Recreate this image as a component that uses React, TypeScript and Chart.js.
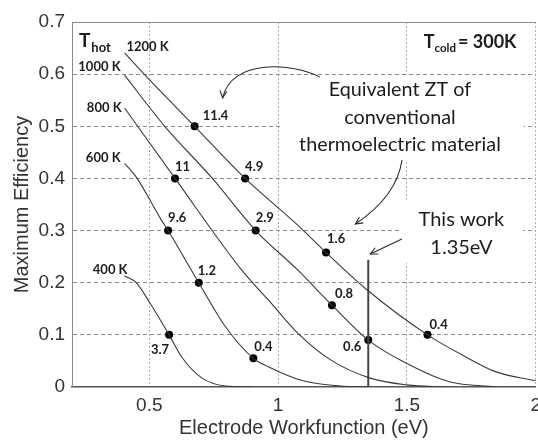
import React, { useEffect, useRef } from "react";
import { Chart, registerables } from "chart.js";

Chart.register(...registerables);

// ---- axis ticks ----
const xTickValues = [0.5, 1, 1.5, 2];
const xTickLabels = ["0.5", "1", "1.5", "2"];
const yTickValues = [0, 0.1, 0.2, 0.3, 0.4, 0.5, 0.6, 0.7];
const yTickLabels = ["0", "0.1", "0.2", "0.3", "0.4", "0.5", "0.6", "0.7"];

// ---- curves: maximum efficiency vs electrode workfunction (eV), per T_hot ----
const curveNames = ["400 K", "600 K", "800 K", "1000 K", "1200 K"];
const wf400 = [0.404, 0.449, 0.5, 0.577, 0.628, 0.705, 0.795, 0.9];
const eff400 = [0.213, 0.2, 0.163, 0.1, 0.056, 0.017, 0.002, 0];
const wf600 = [0.404, 0.449, 0.547, 0.573, 0.692, 0.795, 0.904, 0.962, 1.09, 1.218, 1.35];
const eff600 = [0.429, 0.403, 0.32, 0.3, 0.2, 0.116, 0.055, 0.039, 0.013, 0.003, 0];
const wf800 = [0.404, 0.6, 0.859, 0.962, 1.077, 1.204, 1.357, 1.5, 1.65];
const eff800 = [0.535, 0.4, 0.224, 0.167, 0.103, 0.052, 0.017, 0.004, 0];
const wf1000 = [0.404, 0.56, 0.745, 0.913, 1.077, 1.209, 1.35, 1.5, 1.665, 1.846];
const eff1000 = [0.598, 0.5, 0.4, 0.3, 0.224, 0.157, 0.09, 0.045, 0.01, 0];
const wf1200 = [0.404, 0.48, 0.676, 0.872, 1.077, 1.186, 1.346, 1.58, 1.72, 1.846, 2.0];
const eff1200 = [0.641, 0.6, 0.5, 0.4, 0.31, 0.258, 0.186, 0.1, 0.06, 0.029, 0.012];

// ---- equivalent ZT markers ----
const markerWf = [0.676, 0.872, 1.186, 1.58, 0.913, 1.209, 1.35, 0.6, 0.573, 0.692, 0.904, 0.577];
const markerEff = [0.5, 0.4, 0.258, 0.1, 0.3, 0.157, 0.09, 0.4, 0.3, 0.2, 0.055, 0.1];
const markerZT = ["11.4", "4.9", "1.6", "0.4", "2.9", "0.8", "0.6", "11", "9.6", "1.2", "0.4", "3.7"];

// ---- this work ----
const thisWorkWf = 1.35;
const thisWorkTop = 0.244;

// ---- text placement (layout, in px offsets / data anchors) ----
const markerLabelDx = [8, 0, 1, 2, 0, 3, -7, 0, 0, -1, 1, 0];
const markerLabelDy = [-10, -12, -14, -10, -13, -11, 7, -12, -13, -12, -12, 15];
const markerLabelAlign = ["left", "left", "left", "left", "left", "left", "right", "left", "left", "left", "left", "right"];
const curveLabelX = [0.4154, 0.3885, 0.3923, 0.3885, 0.4115];
const curveLabelY = [0.2244, 0.4392, 0.5351, 0.6137, 0.6521];
const curveLabelAlign = ["right", "right", "right", "right", "left"];

const LATO = "Lato, 'Open Sans', sans-serif";
const ARIAL = "'Liberation Sans', Arial, sans-serif";
const TXT = "#1c1c1c";

function arrowHead(ctx: CanvasRenderingContext2D, tx: number, ty: number, fx: number, fy: number) {
  const ang = Math.atan2(ty - fy, tx - fx);
  const L = 8;
  const s = 0.45;
  ctx.beginPath();
  ctx.moveTo(tx - L * Math.cos(ang - s), ty - L * Math.sin(ang - s));
  ctx.lineTo(tx, ty);
  ctx.lineTo(tx - L * Math.cos(ang + s), ty - L * Math.sin(ang + s));
  ctx.stroke();
}

const annotPlugin = {
  id: "annot",
  beforeDatasetsDraw(chart: any) {
    const { ctx, chartArea: a, scales } = chart;
    const X = (v: number) => scales.x.getPixelForValue(v);
    const Y = (v: number) => scales.y.getPixelForValue(v);
    ctx.save();
    // top frame line
    ctx.strokeStyle = "#8a8a8a";
    ctx.lineWidth = 1;
    ctx.beginPath();
    ctx.moveTo(a.left, Math.round(Y(0.7)) + 0.5);
    ctx.lineTo(a.right, Math.round(Y(0.7)) + 0.5);
    ctx.stroke();
    // white text backgrounds
    ctx.fillStyle = "#ffffff";
    ctx.fillRect(X(1.0) + 2, Y(0.598), X(1.954) - X(1.0) - 2, Y(0.435) - Y(0.598));
    ctx.fillRect(X(1.473), Y(0.355), X(1.95) - X(1.473), Y(0.238) - Y(0.355));
    ctx.restore();
  },
  afterDatasetsDraw(chart: any) {
    const { ctx, scales } = chart;
    const X = (v: number) => scales.x.getPixelForValue(v);
    const Y = (v: number) => scales.y.getPixelForValue(v);
    ctx.save();
    ctx.fillStyle = TXT;
    ctx.strokeStyle = "#2a2a2a";
    ctx.lineWidth = 1.1;

    // marker labels
    const meta = chart.getDatasetMeta(chart.data.datasets.length - 1);
    ctx.font = `bold 13px ${LATO}`;
    ctx.textBaseline = "middle";
    meta.data.forEach((pt: any, i: number) => {
      ctx.textAlign = markerLabelAlign[i];
      ctx.fillText(markerZT[i], pt.x + markerLabelDx[i], pt.y + markerLabelDy[i]);
    });

    // curve labels
    curveNames.forEach((n, i) => {
      ctx.textAlign = curveLabelAlign[i];
      ctx.fillText(n, X(curveLabelX[i]), Y(curveLabelY[i]));
    });

    // T_hot
    ctx.textAlign = "left";
    ctx.textBaseline = "alphabetic";
    let tx = X(0.2269);
    const thy = Y(0.652);
    ctx.font = `bold 19px ${LATO}`;
    ctx.fillText("T", tx, thy);
    tx += ctx.measureText("T").width + 1;
    ctx.font = `bold 13px ${LATO}`;
    ctx.fillText("hot", tx, thy + 5);

    // T_cold = 300K
    let cx = X(1.5654);
    const cy = Y(0.6502);
    ctx.font = `bold 18px ${LATO}`;
    ctx.fillText("T", cx, cy);
    cx += ctx.measureText("T").width;
    ctx.font = `bold 11.5px ${LATO}`;
    ctx.fillText("cold", cx, cy + 4);
    cx += ctx.measureText("cold").width + 2;
    ctx.font = `bold 18px ${LATO}`;
    ctx.fillText("= 300K", cx, cy);

    // Equivalent ZT text
    ctx.font = `19.8px ${LATO}`;
    ctx.textAlign = "center";
    ctx.textBaseline = "middle";
    ctx.fillText("Equivalent ZT of", X(1.473), Y(0.5696));
    ctx.fillText("conventional", X(1.473), Y(0.5159));
    ctx.fillText("thermoelectric material", X(1.473), Y(0.4641));

    // This work text
    ctx.font = `20px ${LATO}`;
    ctx.fillText("This work", X(1.7115), Y(0.3203));
    ctx.fillText("1.35eV", X(1.7115), Y(0.2666));

    // arrow 1 (curved, to upper-left marker)
    ctx.beginPath();
    ctx.moveTo(X(1.1615), Y(0.5946));
    ctx.bezierCurveTo(X(1.0577), Y(0.6214), X(0.8192), Y(0.631), X(0.7846), Y(0.5543));
    ctx.stroke();
    arrowHead(ctx, X(0.7846), Y(0.5543), X(0.8), Y(0.62));

    // arrow 2 (curved, downwards)
    ctx.beginPath();
    ctx.moveTo(X(1.4808), Y(0.4354));
    ctx.quadraticCurveTo(X(1.4615), Y(0.3663), X(1.3), Y(0.3126));
    ctx.stroke();
    arrowHead(ctx, X(1.3), Y(0.3126), X(1.4615), Y(0.3663));

    // arrow 3 (this work)
    ctx.beginPath();
    ctx.moveTo(X(1.4808), Y(0.2838));
    ctx.lineTo(X(1.3577), Y(0.2551));
    ctx.stroke();
    arrowHead(ctx, X(1.3577), Y(0.2551), X(1.4808), Y(0.2838));

    ctx.restore();
  },
};

export default function App() {
  const ref = useRef<HTMLCanvasElement>(null);
  useEffect(() => {
    const canvas = ref.current!;
    const curveX = [wf400, wf600, wf800, wf1000, wf1200];
    const curveY = [eff400, eff600, eff800, eff1000, eff1200];
    const datasets: any[] = curveNames.map((name, k) => ({
      label: name,
      data: curveX[k].map((v, i) => ({ x: v, y: curveY[k][i] })),
      borderColor: "#3a3a3a",
      borderWidth: 1.1,
      pointRadius: 0,
      cubicInterpolationMode: "monotone",
      fill: false,
    }));
    datasets.push({
      label: "This work",
      data: [
        { x: thisWorkWf, y: 0 },
        { x: thisWorkWf, y: thisWorkTop },
      ],
      borderColor: "#444",
      borderWidth: 2,
      pointRadius: 0,
      fill: false,
    });
    datasets.push({
      label: "ZT",
      data: markerWf.map((v, i) => ({ x: v, y: markerEff[i] })),
      showLine: false,
      pointRadius: 4,
      pointBackgroundColor: "#000",
      pointBorderColor: "#000",
      pointBorderWidth: 0,
    });

    const chart = new Chart(canvas, {
      type: "line",
      data: { datasets },
      options: {
        animation: false,
        responsive: false,
        maintainAspectRatio: false,
        events: [],
        layout: { padding: { top: 22, right: 8, left: 0, bottom: 0 } },
        plugins: { legend: { display: false }, tooltip: { enabled: false } },
        scales: {
          x: {
            type: "linear",
            position: "bottom",
            min: 0.2,
            max: 2.0,
            afterBuildTicks: (s: any) => {
              s.ticks = xTickValues.map((v) => ({ value: v }));
            },
            afterFit: (s: any) => {
              s.height = 53;
            },
            ticks: {
              autoSkip: false,
              maxRotation: 0,
              padding: 7,
              color: "#333",
              font: { family: ARIAL, size: 19 },
              callback: (_v: any, i: number) => xTickLabels[i],
            },
            grid: { color: "#b0b0b0", lineWidth: 1, drawTicks: false },
            border: { display: true, color: "#555", width: 1.5, dash: [2, 2] },
            title: {
              display: true,
              text: "Electrode Workfunction (eV)",
              color: "#333",
              font: { family: ARIAL, size: 20 },
              padding: { top: 0, bottom: 0 },
            },
          },
          y: {
            type: "linear",
            min: 0,
            max: 0.7,
            afterBuildTicks: (s: any) => {
              s.ticks = yTickValues.map((v) => ({ value: v }));
            },
            afterFit: (s: any) => {
              s.width = 72;
            },
            ticks: {
              padding: 7,
              color: "#333",
              font: { family: ARIAL, size: 19 },
              callback: (_v: any, i: number) => yTickLabels[i],
            },
            grid: {
              color: (c: any) =>
                c.tick && (c.tick.value === 0 || c.tick.value >= 0.699) ? "rgba(0,0,0,0)" : "#8c8c8c",
              lineWidth: 1,
              drawTicks: false,
            },
            border: { display: true, color: "#8a8a8a", width: 1, dash: [4, 3] },
            title: {
              display: true,
              text: "Maximum Efficiency",
              color: "#333",
              font: { family: ARIAL, size: 20 },
              padding: { top: 10.5, bottom: 0 },
            },
          },
        },
      },
      plugins: [annotPlugin],
    });
    return () => chart.destroy();
  }, []);

  return (
    <div style={{ position: "absolute", left: 0, top: 0, width: 538, height: 440, overflow: "hidden", background: "#fff" }}>
      <canvas ref={ref} width={548} height={440} style={{ display: "block", width: 548, height: 440 }} />
    </div>
  );
}
